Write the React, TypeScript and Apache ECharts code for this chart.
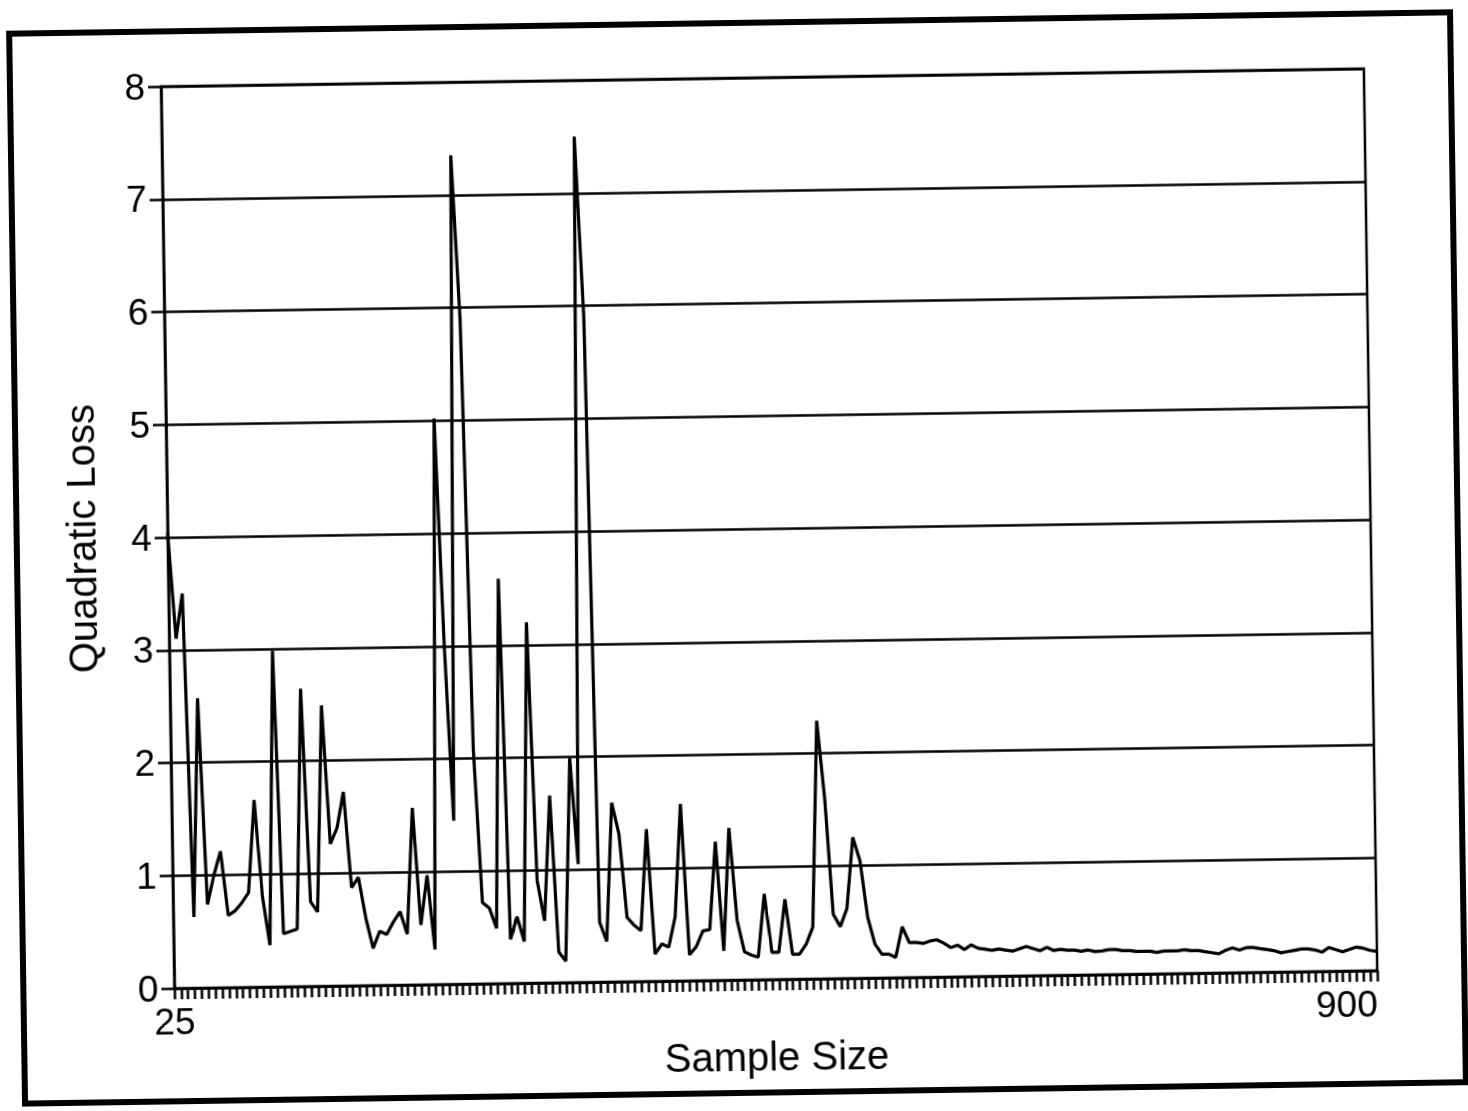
import React, { useEffect, useRef } from "react";
import * as echarts from "echarts";

// Sample sizes on the category axis (25 .. 900, step 5)
const sampleSizes: string[] = Array.from({ length: 176 }, (_, i) => String(25 + 5 * i));

// Quadratic loss, one value per sample size
const lossValues: number[] = [
  4.04, 3.1, 3.5, 0.63, 2.57, 0.74, 1.0, 1.21, 0.64, 0.68,
  0.75, 0.84, 1.66, 0.81, 0.37, 2.98, 0.47, 0.49, 0.51, 2.64,
  0.75, 0.66, 2.49, 1.26, 1.4, 1.72, 0.87, 0.96, 0.6, 0.33,
  0.48, 0.45, 0.56, 0.65, 0.45, 1.57, 0.53, 0.97, 0.31, 5.02,
  3.0, 1.45, 7.35, 5.9, 2.08, 0.72, 0.67, 0.49, 3.59, 0.39,
  0.59, 0.37, 3.2, 0.91, 0.55, 1.66, 0.27, 0.19, 1.99, 1.05,
  7.5, 5.9, 0.53, 0.36, 1.59, 1.31, 0.57, 0.5, 0.45, 1.35,
  0.24, 0.33, 0.3, 0.57, 1.57, 0.23, 0.3, 0.44, 0.45, 1.23,
  0.26, 1.35, 0.53, 0.25, 0.22, 0.2, 0.76, 0.24, 0.24, 0.71,
  0.22, 0.22, 0.31, 0.46, 2.29, 1.6, 0.57, 0.46, 0.62, 1.25,
  1.04, 0.54, 0.3, 0.21, 0.21, 0.18, 0.45, 0.31, 0.31, 0.3,
  0.32, 0.33, 0.3, 0.26, 0.28, 0.24, 0.28, 0.25, 0.24, 0.23,
  0.24, 0.23, 0.22, 0.24, 0.26, 0.24, 0.22, 0.25, 0.22, 0.23,
  0.22, 0.22, 0.21, 0.22, 0.205, 0.21, 0.22, 0.22, 0.21, 0.21,
  0.2, 0.2, 0.2, 0.19, 0.2, 0.2, 0.2, 0.21, 0.2, 0.2,
  0.19, 0.18, 0.17, 0.2, 0.22, 0.2, 0.22, 0.22, 0.21, 0.2,
  0.19, 0.17, 0.18, 0.19, 0.2, 0.2, 0.19, 0.17, 0.21, 0.19,
  0.17, 0.19, 0.21, 0.2, 0.18, 0.17,
];

const yMin = 0;
const yMax = 8;
const yStep = 1;

const FONT = "'Liberation Sans', Arial, Helvetica, sans-serif";

export default function App() {
  const ref = useRef<HTMLDivElement>(null);

  useEffect(() => {
    document.body.style.margin = "0";
    document.body.style.overflow = "hidden";
    if (!ref.current) return;
    const chart = echarts.init(ref.current, undefined, { renderer: "svg" });
    const last = sampleSizes.length - 1;
    chart.setOption({
      animation: false,
      backgroundColor: "transparent",
      grid: {
        left: 168,
        top: 78,
        width: 1203,
        height: 902,
        show: true,
        borderColor: "#000",
        borderWidth: 2.5,
        backgroundColor: "transparent",
      },
      xAxis: {
        type: "category",
        data: sampleSizes,
        boundaryGap: false,
        name: "Sample Size",
        nameLocation: "middle",
        nameGap: 57,
        nameTextStyle: { fontSize: 40, color: "#000", fontFamily: FONT },
        axisLine: { show: true, lineStyle: { color: "#000", width: 2.5 } },
        axisTick: {
          show: true,
          interval: 0,
          length: 11,
          lineStyle: { color: "#000", width: 2.5 },
        },
        axisLabel: {
          show: true,
          interval: (index: number) => index === 0 || index === last,
          fontSize: 37,
          color: "#000",
          fontFamily: FONT,
          margin: 15,
          alignMinLabel: "center",
          alignMaxLabel: "right",
        },
        splitLine: { show: false },
      },
      yAxis: {
        type: "value",
        min: yMin,
        max: yMax,
        interval: yStep,
        name: "Quadratic Loss",
        nameLocation: "middle",
        nameGap: 66,
        nameTextStyle: { fontSize: 40, color: "#000", fontFamily: FONT },
        axisLine: { show: true, lineStyle: { color: "#000", width: 2.5 } },
        axisTick: { show: true, length: 13, lineStyle: { color: "#000", width: 2.5 } },
        axisLabel: { fontSize: 37, color: "#000", fontFamily: FONT, margin: 16 },
        splitLine: { show: true, lineStyle: { color: "#000", width: 2.5 } },
      },
      series: [
        {
          type: "line",
          data: lossValues,
          symbol: "none",
          lineStyle: { color: "#000", width: 3.2 },
          z: 3,
        },
      ],
    });
    return () => chart.dispose();
  }, []);

  return (
    <div
      style={{
        position: "fixed",
        left: 0,
        top: 0,
        width: 1468,
        height: 1111,
        background: "#fff",
        transform: "rotate(-0.85deg)",
        transformOrigin: "50% 50%",
      }}
    >
      <div
        style={{
          position: "absolute",
          left: 14,
          top: 20,
          width: 1435,
          height: 1064,
          border: "6px solid #000",
        }}
      />
      <div
        ref={ref}
        style={{ position: "absolute", left: 0, top: 0, width: 1468, height: 1111 }}
      />
    </div>
  );
}
